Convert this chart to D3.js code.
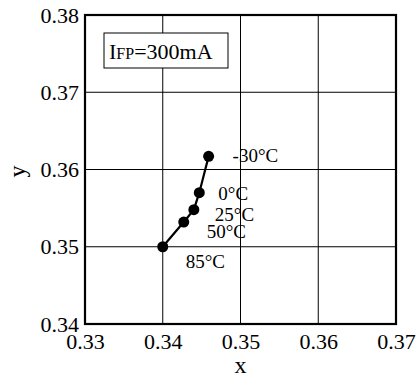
<!DOCTYPE html>
<meta charset="utf-8">
<head>
    <title>Chromaticity vs temperature</title>
    <script type="text/javascript" src="https://d3js.org/d3.v7.min.js"></script>
    <style>
        body { margin: 0; background: #fff; }
        text { font-family: 'Liberation Serif', 'Times New Roman', serif; fill: #000; }
    </style>
</head>
<body>
    <div id="chart"></div>
    <script>
        // data
        var temps = ["-30°C", "0°C", "25°C", "50°C", "85°C"]
        var xVals = [0.3459, 0.3447, 0.3440, 0.3427, 0.3400]
        var yVals = [0.3617, 0.3570, 0.3548, 0.3532, 0.3500]
        var xTicks = [0.33, 0.34, 0.35, 0.36, 0.37]
        var yTicks = [0.34, 0.35, 0.36, 0.37, 0.38]
        // label offsets from each dot (px)
        var labelDx = [24, 19, 21, 23, 23]
        var labelDy = [6, 7, 11, 16, 21]

        var w = 417
        var h = 386
        var margin = {top: 15, right: 21, bottom: 62, left: 85}

        var svg = d3.select("#chart")
                    .append("svg")
                    .attr("width", w)
                    .attr("height", h);

        var x = d3.scaleLinear()
            .domain([0.33, 0.37])
            .range([margin.left, w - margin.right]);

        var y = d3.scaleLinear()
            .domain([0.34, 0.38])
            .range([h - margin.bottom, margin.top]);

        // grid
        svg.append("g")
            .selectAll("line.vx")
            .data(xTicks.slice(1, -1))
            .enter()
            .append("line")
            .attr("x1", d => x(d)).attr("x2", d => x(d))
            .attr("y1", y(0.34)).attr("y2", y(0.38))
            .attr("stroke", "#000").attr("stroke-width", 1);

        svg.append("g")
            .selectAll("line.hy")
            .data(yTicks.slice(1, -1))
            .enter()
            .append("line")
            .attr("y1", d => y(d)).attr("y2", d => y(d))
            .attr("x1", x(0.33)).attr("x2", x(0.37))
            .attr("stroke", "#000").attr("stroke-width", 1);

        // frame
        svg.append("rect")
            .attr("x", x(0.33)).attr("y", y(0.38))
            .attr("width", x(0.37) - x(0.33))
            .attr("height", y(0.34) - y(0.38))
            .attr("fill", "none")
            .attr("stroke", "#000")
            .attr("stroke-width", 2.2);

        // axes (labels only)
        var xAxis = svg.append("g")
            .attr("transform", "translate(0," + y(0.34) + ")")
            .call(d3.axisBottom(x).tickValues(xTicks).tickSize(0).tickPadding(12).tickFormat(d3.format(".2f")));
        var yAxis = svg.append("g")
            .attr("transform", "translate(" + x(0.33) + ",0)")
            .call(d3.axisLeft(y).tickValues(yTicks).tickSize(0).tickPadding(6).tickFormat(d3.format(".2f")));
        [xAxis, yAxis].forEach(function(a) {
            a.select(".domain").remove();
            a.selectAll("text")
                .attr("font-size", 22)
                .attr("fill", "#000");
        });
        xAxis.selectAll("text").attr("dy", "0.6em");

        // axis titles
        svg.append("text")
            .attr("x", (x(0.33) + x(0.37)) / 2)
            .attr("y", 373)
            .attr("text-anchor", "middle")
            .attr("font-size", 24)
            .text("x");

        svg.append("text")
            .attr("transform", "translate(25," + (y(0.36) + 2) + ") rotate(-90)")
            .attr("text-anchor", "middle")
            .attr("font-size", 24)
            .text("y");

        // curve
        var pts = xVals.map((d, i) => [d, yVals[i]]);
        svg.append("path")
            .datum(pts)
            .attr("fill", "none")
            .attr("stroke", "#000")
            .attr("stroke-width", 2.2)
            .attr("d", d3.line().x(d => x(d[0])).y(d => y(d[1])));

        svg.selectAll("circle")
            .data(pts)
            .enter()
            .append("circle")
            .attr("cx", d => x(d[0]))
            .attr("cy", d => y(d[1]))
            .attr("r", 5.5)
            .attr("fill", "#000");

        svg.selectAll("text.temp")
            .data(temps)
            .enter()
            .append("text")
            .attr("class", "temp")
            .attr("x", (d, i) => x(xVals[i]) + labelDx[i])
            .attr("y", (d, i) => y(yVals[i]) + labelDy[i])
            .attr("font-size", 19)
            .text(d => d);

        // current legend box
        var box = svg.append("g").attr("transform", "translate(104,33)");
        box.append("rect")
            .attr("width", 124).attr("height", 35)
            .attr("fill", "#fff")
            .attr("stroke", "#000")
            .attr("stroke-width", 1);
        var t = box.append("text")
            .attr("x", 5).attr("y", 26)
            .attr("font-size", 22);
        t.append("tspan").text("I");
        t.append("tspan").attr("font-size", 16).text("FP");
        t.append("tspan").text("=300mA");
    </script>
</body>
</html>
